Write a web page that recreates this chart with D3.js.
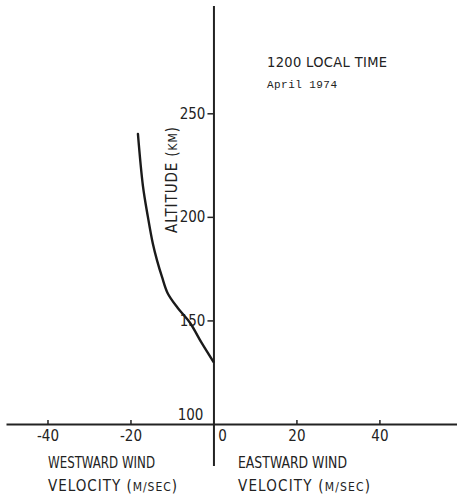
<!DOCTYPE html>
<html>
<head>
<meta charset="utf-8">
<script src="https://cdn.jsdelivr.net/npm/d3@7"></script>
<style>
  html, body { margin: 0; padding: 0; background: #fff; }
  svg { display: block; }
  .lbl { font-family: "Liberation Sans Narrow", "DejaVu Sans Condensed", sans-serif; fill: #222; }
  .mono { font-family: "Liberation Mono", "DejaVu Sans Mono", monospace; fill: #222; }
</style>
</head>
<body>
<div id="chart"></div>
<script>
// wind profile (m/sec, km)
const windSpeed = [-18.2, -17.0, -15.8, -14.6, -13.6, -12.4, -11.0, -8.6, -5.7, -2.8, 0];
const altitude  = [240, 215, 200, 187, 179, 171, 163, 156, 149, 139, 130];

const xTicks = [-40, -20, 0, 20, 40];
const yTicks = [100, 150, 200, 250];

const W = 457, H = 504;
const svg = d3.select('#chart').append('svg').attr('width', W).attr('height', H);

const x = d3.scaleLinear().domain([-50, 58.7]).range([6, 457]);
const y = d3.scaleLinear().domain([80, 302]).range([465.4, 5.6]);

// x axis: line at altitude 100, ticks pointing up
const xAxis = d3.axisBottom(x)
  .tickValues(xTicks.filter(d => d !== 0))
  .tickSizeInner(-4).tickSizeOuter(0).tickPadding(6)
  .tickFormat(d => d < 0 ? '-' + Math.abs(d) : d);
const gx = svg.append('g').attr('transform', `translate(0,${y(100)})`).call(xAxis);
gx.select('.domain').attr('stroke', '#222').attr('stroke-width', 2);
gx.selectAll('.tick line').attr('stroke', '#222').attr('stroke-width', 1.5);
gx.selectAll('.tick text').attr('class', 'lbl').attr('font-size', 15).attr('dy', '0.71em').attr('fill', '#222');
// zero label sits right of the vertical axis
gx.append('text').attr('class', 'lbl').attr('font-size', 15)
  .attr('x', x(0) + 9).attr('y', 6).attr('dy', '0.71em').attr('text-anchor', 'middle').text(xTicks[2]);

// y axis: vertical line at wind 0
const yAxis = d3.axisLeft(y)
  .tickValues(yTicks)
  .tickSizeInner(6).tickSizeOuter(0).tickPadding(2);
const gy = svg.append('g').attr('transform', `translate(${x(0)},0)`).call(yAxis);
gy.select('.domain').attr('stroke', '#222').attr('stroke-width', 2);
gy.selectAll('.tick line').attr('stroke', '#222').attr('stroke-width', 1.5);
gy.selectAll('.tick text').attr('class', 'lbl').attr('font-size', 15).attr('fill', '#222');
gy.selectAll('.tick').filter(d => d === 100).select('line').remove();
gy.selectAll('.tick').filter(d => d === 100).select('text').attr('dy', '-0.3em').attr('x', -10);

// profile
const line = d3.line()
  .x((d, i) => x(windSpeed[i]))
  .y(d => y(d))
  .curve(d3.curveCatmullRom.alpha(0.5));
svg.append('path').datum(altitude)
  .attr('d', line)
  .attr('fill', 'none').attr('stroke', '#1a1a1a').attr('stroke-width', 2.4)
  .attr('stroke-linejoin', 'round').attr('stroke-linecap', 'round');

// axis title
const yt = svg.append('text').attr('class', 'lbl').attr('font-size', 15)
  .attr('transform', 'translate(177,180) rotate(-90)')
  .attr('text-anchor', 'middle').attr('textLength', 106).attr('lengthAdjust', 'spacing');
yt.append('tspan').text('ALTITUDE (');
yt.append('tspan').attr('font-size', 12).text('KM');
yt.append('tspan').text(')');

// header
svg.append('text').attr('class', 'lbl').attr('font-size', 14.5)
  .attr('x', 267).attr('y', 67).attr('textLength', 120).attr('lengthAdjust', 'spacing')
  .text('1200 LOCAL TIME');
svg.append('text').attr('class', 'mono').attr('font-size', 11)
  .attr('x', 267).attr('y', 88).attr('textLength', 70).attr('lengthAdjust', 'spacing')
  .text('April 1974');

// bottom labels
function velocity(x0, len) {
  const t = svg.append('text').attr('class', 'lbl').attr('font-size', 15)
    .attr('x', x0).attr('y', 491).attr('textLength', len).attr('lengthAdjust', 'spacing');
  t.append('tspan').text('VELOCITY (');
  t.append('tspan').attr('font-size', 12).text('M/SEC');
  t.append('tspan').text(')');
}
svg.append('text').attr('class', 'lbl').attr('font-size', 15)
  .attr('x', 48).attr('y', 468).attr('textLength', 107).attr('lengthAdjust', 'spacingAndGlyphs')
  .text('WESTWARD WIND');
velocity(48, 129);
svg.append('text').attr('class', 'lbl').attr('font-size', 15)
  .attr('x', 238).attr('y', 468).attr('textLength', 109).attr('lengthAdjust', 'spacingAndGlyphs')
  .text('EASTWARD WIND');
velocity(238, 132);
</script>
</body>
</html>
